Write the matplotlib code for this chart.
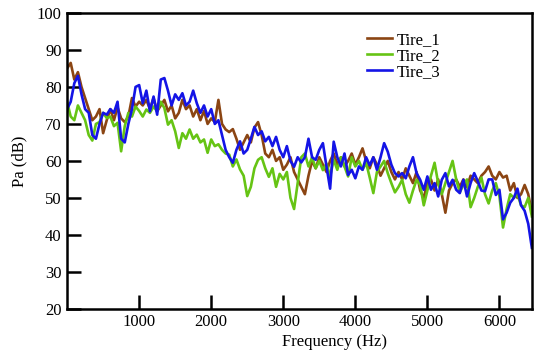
import matplotlib
matplotlib.use("Agg")
import matplotlib.pyplot as plt

plt.rcParams['font.family'] = ['Liberation Serif', 'DejaVu Serif']

# frequency grid (Hz), read every 50 Hz off the reference
freq = list(range(0, 6451, 50))

tire_1 = [85, 86.5, 82, 84, 80, 77, 74, 71, 72, 74,
          67.5, 71, 74, 71, 74.5, 71.5, 70.5, 72, 77, 74.7,
          76, 75, 76.5, 74, 77, 73.4, 75, 76.5, 73.4, 75,
          71.5, 73, 76.5, 74, 75, 72, 74, 71, 73.5, 70,
          71.5, 70.5, 76.5, 70, 68.5, 67.8, 68.6, 66, 63, 65,
          67, 65, 69, 70.5, 67, 62, 61, 63, 60, 61,
          57.6, 59, 61, 57, 55, 53, 51, 56, 60, 58,
          61, 59, 57, 60, 62, 59, 61, 58.5, 60, 62,
          59, 61, 63.4, 60, 58, 61, 59, 56, 58, 60,
          57, 55, 57, 55, 58, 56, 54, 57, 52, 50,
          54, 55, 52, 55, 51, 46, 52, 54, 55, 53,
          55, 53, 56, 55, 54, 56, 57, 58.5, 56, 55,
          57, 55.5, 56, 52, 54, 50, 51, 53.5, 51, 46]

tire_2 = [76, 72, 71, 75, 73, 71, 67, 65.5, 70, 70.5,
          73, 71.6, 72, 69.4, 70.3, 62.6, 69.4, 73, 72, 74.7,
          73.5, 72, 73.9, 73, 74.7, 73.4, 76, 74.3, 69.8, 71,
          68, 63.5, 67.5, 66, 68.5, 66, 67.1, 65, 65.8, 62.2,
          65.8, 64, 64.5, 63, 62, 61.7, 58.5, 60.4, 57.7, 56,
          50.5, 53, 58, 60.3, 61, 58, 55.7, 58, 53, 56.5,
          55, 57, 50, 47, 54, 61, 62, 58.5, 61, 58,
          60, 57.5, 59.3, 55.8, 60.3, 57.6, 61, 58.5, 55.8, 61,
          58.5, 60, 57.6, 59.5, 55.5, 51.3, 57, 58.5, 60, 56.7,
          54, 51.5, 53, 54.9, 51, 48.7, 52, 54.9, 53.5, 48,
          52, 56, 59.5, 54, 51, 54, 57, 60, 55, 51.5,
          53.5, 55, 47.5, 50, 53, 55.5, 51, 48.5, 52, 54,
          50.5, 42, 47, 51, 50, 51, 48, 47.5, 50, 45]

tire_3 = [74, 76, 81, 83, 78, 74, 73, 67, 66, 70,
          73, 72.5, 74, 73, 76, 66, 65, 70, 74, 80,
          80.5, 75.6, 79, 73.4, 77.4, 72.5, 82, 82.4, 79, 75,
          78, 76.5, 78.3, 75, 76, 79, 75.6, 73, 75, 72,
          74, 70, 71, 67, 63, 61, 59.5, 63, 65.3, 62,
          63, 66, 69.2, 67, 68, 65.3, 66.5, 64, 66.5, 63,
          61, 64, 60, 58.4, 61, 59.6, 61, 66, 61, 60.3,
          63, 64.8, 58.5, 52.5, 65.2, 61, 58.5, 62, 56.2, 57.6,
          55.3, 58.5, 57.6, 61, 58.8, 61, 57.6, 61, 64.8, 62.5,
          59, 56.7, 55.8, 56.7, 55.3, 58.5, 61, 56.7, 54.9, 52.2,
          55.8, 52.2, 54, 50.4, 54.9, 56.7, 53.1, 54.9, 52.2, 51.3,
          54.9, 50.4, 54, 56.7, 54.5, 52, 51.8, 55, 55, 50.8,
          52.2, 44.2, 46, 48.7, 50, 52.5, 48, 46.5, 43, 36.5]

fig = plt.figure(figsize=(5.5, 3.6), dpi=100)
ax = fig.add_axes([0.122, 0.142, 0.845, 0.822])

ax.plot(freq, tire_1, color='#8B4513', lw=1.9, label='Tire_1')
ax.plot(freq, tire_2, color='#66c414', lw=1.9, label='Tire_2')
ax.plot(freq, tire_3, color='#1414e6', lw=1.9, label='Tire_3')

ax.set_xlim(0, 6450)
ax.set_ylim(20, 100)
ax.set_xticks([1000, 2000, 3000, 4000, 5000, 6000])
ax.set_yticks([20, 30, 40, 50, 60, 70, 80, 90, 100])
ax.tick_params(direction='in', length=10, width=1.8, labelsize=12, pad=4)

for s in ax.spines.values():
    s.set_linewidth(1.8)

ax.set_xlabel('Frequency (Hz)', fontsize=12)
ax.set_ylabel('Pa (dB)', fontsize=12)
ax.xaxis.set_label_coords(0.576, -0.085)
ax.yaxis.set_label_coords(-0.085, 0.5)

ax.legend(loc='upper left', bbox_to_anchor=(0.645, 0.935), frameon=False,
          fontsize=12, handlelength=1.5, handletextpad=0.3,
          labelspacing=0.0, borderpad=0, borderaxespad=0)

fig.savefig('out.png', dpi=100)
